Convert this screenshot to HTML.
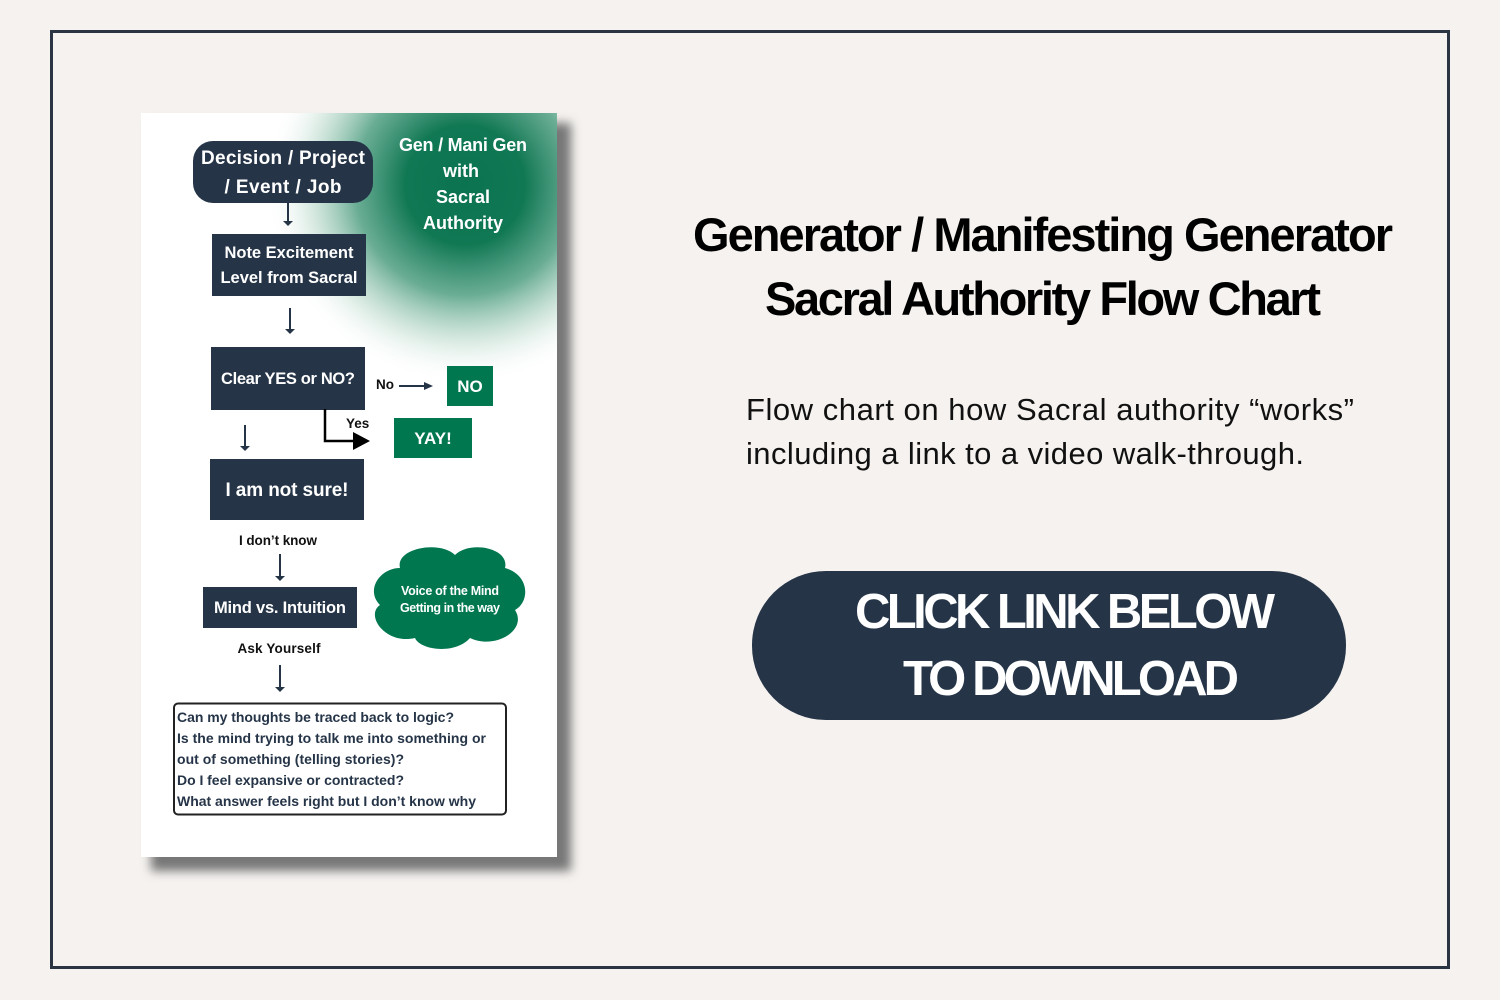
<!DOCTYPE html>
<html><head><meta charset="utf-8"><style>
html,body{margin:0;padding:0;background:#f5f2ef;}
svg{display:block;font-family:"Liberation Sans",sans-serif;}
</style></head><body>
<svg width="1500" height="1000" viewBox="0 0 1500 1000" xmlns="http://www.w3.org/2000/svg">
<defs>
<radialGradient id="g" cx="465" cy="185" r="200" gradientUnits="userSpaceOnUse">
<stop offset="0" stop-color="#0b7350"/>
<stop offset="0.3" stop-color="#117854"/>
<stop offset="0.55" stop-color="#4f9e82" stop-opacity="0.85"/>
<stop offset="0.8" stop-color="#bfdccf" stop-opacity="0.5"/>
<stop offset="1" stop-color="#ffffff" stop-opacity="0"/>
</radialGradient>
<filter id="sh" x="-10%" y="-10%" width="130%" height="130%"><feGaussianBlur stdDeviation="5"/></filter>
<clipPath id="card"><rect x="141" y="113" width="416" height="744"/></clipPath>
</defs>
<rect width="1500" height="1000" fill="#f5f2ef"/>
<rect x="51.5" y="31.5" width="1397" height="936" fill="none" stroke="#2b3443" stroke-width="3"/>
<rect x="151" y="123" width="420" height="748" fill="#777" filter="url(#sh)"/>
<rect x="141" y="113" width="416" height="744" fill="#fff"/>
<rect x="141" y="113" width="416" height="744" fill="url(#g)" clip-path="url(#card)"/>
<g fill="#fff" font-weight="bold" font-size="18" text-anchor="middle">
<text x="463" y="151" textLength="128">Gen / Mani Gen</text>
<text x="461" y="177">with</text>
<text x="463" y="203">Sacral</text>
<text x="463" y="229">Authority</text>
</g>
<g fill="#253447">
<rect x="193" y="141" width="180" height="62" rx="20"/>
<rect x="212" y="234" width="154" height="62"/>
<rect x="211" y="347" width="154" height="63"/>
<rect x="210" y="459" width="154" height="61"/>
<rect x="203" y="587" width="154" height="41"/>
</g>
<g fill="#fff" font-weight="bold" text-anchor="middle">
<text x="283" y="164" font-size="19" textLength="164">Decision / Project</text>
<text x="283" y="193" font-size="19" textLength="117">/ Event / Job</text>
<text x="289" y="258" font-size="16.5" textLength="129">Note Excitement</text>
<text x="289" y="283" font-size="16.5" textLength="137">Level from Sacral</text>
<text x="288" y="384" font-size="16.5" textLength="134">Clear YES or NO?</text>
<text x="287" y="496" font-size="19" textLength="123">I am not sure!</text>
<text x="280" y="613" font-size="16.5" textLength="132">Mind vs. Intuition</text>
</g>
<g fill="#00774f">
<rect x="447" y="366" width="46" height="40"/>
<rect x="394" y="418" width="78" height="40"/>
<path d="M400 568 C395 548 440 540 455 555 C470 540 510 548 505 568 C530 575 530 602 515 610 C528 630 495 650 470 638 C455 655 420 650 415 638 C385 645 365 615 380 605 C365 590 380 568 400 568 Z"/>
</g>
<g fill="#fff" font-weight="bold" text-anchor="middle">
<text x="470" y="392" font-size="17">NO</text>
<text x="433" y="444" font-size="17">YAY!</text>
<text x="450" y="595" font-size="12.5" textLength="98">Voice of the Mind</text>
<text x="450" y="612" font-size="12.5" textLength="100">Getting in the way</text>
</g>
<g stroke="#253447" stroke-width="2" fill="none">
<line x1="288" y1="203" x2="288" y2="223"/>
<line x1="290" y1="308" x2="290" y2="331"/>
<line x1="245" y1="425" x2="245" y2="448"/>
<line x1="280" y1="554" x2="280" y2="578"/>
<line x1="280" y1="665" x2="280" y2="689"/>
<line x1="399" y1="386" x2="426" y2="386"/>
</g>
<g fill="#253447">
<path d="M283 221 L293 221 L288 226 Z"/>
<path d="M285 329 L295 329 L290 334 Z"/>
<path d="M240 446 L250 446 L245 451 Z"/>
<path d="M275 576 L285 576 L280 581 Z"/>
<path d="M275 687 L285 687 L280 692 Z"/>
<path d="M424 382 L433 386 L424 390 Z"/>
</g>
<path d="M325 409 V441 H355" stroke="#000" stroke-width="2.5" fill="none"/>
<path d="M353 432 L370 441 L353 450 Z" fill="#000"/>
<g fill="#111" font-weight="bold" font-size="13.5">
<text x="376" y="389">No</text>
<text x="346" y="428">Yes</text>
<text x="278" y="545" text-anchor="middle" textLength="78">I don’t know</text>
<text x="279" y="653" text-anchor="middle" textLength="83">Ask Yourself</text>
</g>
<rect x="174" y="703.5" width="332" height="111" rx="4" fill="none" stroke="#222" stroke-width="2"/>
<g fill="#253447" font-weight="bold" font-size="14">
<text x="177" y="722" textLength="277">Can my thoughts be traced back to logic?</text>
<text x="177" y="743" textLength="309">Is the mind trying to talk me into something or</text>
<text x="177" y="764" textLength="227">out of something (telling stories)?</text>
<text x="177" y="785" textLength="227">Do I feel expansive or contracted?</text>
<text x="177" y="806" textLength="299">What answer feels right but I don’t know why</text>
</g>
<g fill="#000" font-weight="bold" font-size="47" text-anchor="middle">
<text x="1043" y="251" textLength="700">Generator / Manifesting Generator</text>
<text x="1043" y="315" textLength="556">Sacral Authority Flow Chart</text>
</g>
<g fill="#111" font-size="31">
<text x="746" y="420" textLength="608">Flow chart on how Sacral authority “works”</text>
<text x="746" y="464" textLength="558">including a link to a video walk-through.</text>
</g>
<rect x="752" y="571" width="594" height="149" rx="74" fill="#253447"/>
<g fill="#fff" font-weight="bold" font-size="49" text-anchor="middle">
<text x="1065" y="628" textLength="420">CLICK LINK BELOW</text>
<text x="1071" y="695" textLength="336">TO DOWNLOAD</text>
</g>
</svg>
</body></html>
